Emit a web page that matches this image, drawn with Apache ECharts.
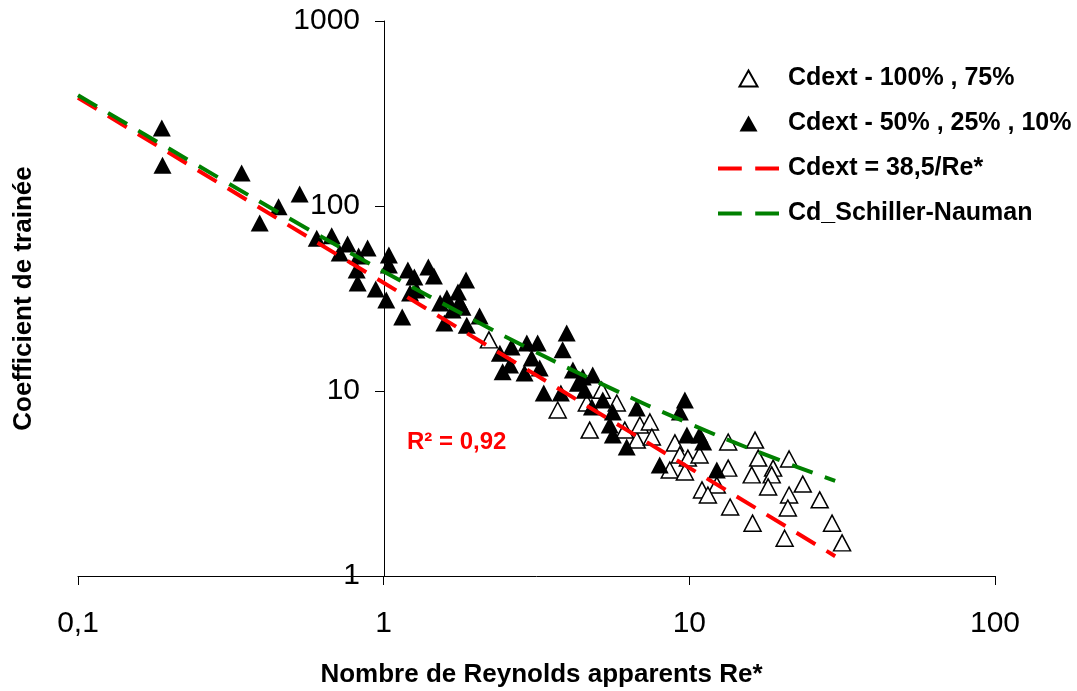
<!DOCTYPE html>
<html>
<head>
<meta charset="utf-8">
<script src="https://cdn.jsdelivr.net/npm/echarts@6.0.0/dist/echarts.min.js"></script>
<style>
body{margin:0;background:#fff;}
#main{width:1077px;height:691px;}
</style>
</head>
<body>
<div id="main"></div>
<script>

// series names (legend)
var seriesNames = ['Cdext - 100% , 75%', 'Cdext - 50% , 25% , 10%', 'Cdext = 38,5/Re*', 'Cd_Schiller-Nauman'];

// open triangles : 100%, 75%
var openRe = [2.21,3.71,4.72,4.62,5.17,5.79,6.15,6.73,6.89,7.43,7.54,8.97,9.31,9.89,10.8,8.63,9.67,13.4,13.4,12.3,11.0,11.5,13.6,16.4,16.8,18.8,16.0,18.6,18.1,21.2,23.5,21.2,21.0,26.7,16.1,20.5,29.3,31.6];
var openCd = [18.9,7.89,6.15,8.61,10.1,8.61,6.15,5.43,6.55,6.8,5.64,5.24,4.51,4.34,4.51,3.74,3.65,5.3,3.83,3.1,2.92,2.74,2.36,5.43,4.34,3.83,3.52,3.52,3.03,4.29,3.14,2.74,2.33,2.58,1.93,1.6,1.93,1.51];

// filled triangles : 50%, 25%, 10%
var fullRe = [0.188,0.189,0.343,0.393,0.453,0.531,0.604,0.676,0.718,0.762,0.828,0.886,0.816,0.822,0.942,1.02,1.04,1.04,1.15,1.2,1.26,1.22,1.28,1.4,1.46,1.53,1.61,1.58,1.68,1.75,1.77,1.86,1.87,1.81,2.06,2.4,2.62,2.45,2.59,2.94,3.19,3.05,3.24,2.89,3.97,3.85,3.34,3.8,4.16,4.32,4.48,4.83,4.55,4.8,5.21,5.62,5.49,5.62,6.24,6.73,9.67,9.31,9.82,10.8,11.1,8.0,12.3];
var fullCd = [264,166,151,81,99,116,67,69,55.7,62.3,53.7,59.3,45.1,38.4,35.6,31,54.3,48,25.1,45.1,41.3,33.9,35.1,46.8,41.8,29.9,31.8,23.3,27.4,34.3,30.3,39.8,22.7,28.4,25.4,16,17.3,12.7,13.8,18.2,18.2,15.1,13.3,12.5,20.6,16.7,9.76,9.76,13,11,11.9,12.2,10.1,8.2,8.94,7.7,6.55,5.78,4.98,8.09,8.94,7.7,5.78,5.78,5.3,3.98,3.74];

// red dashed line (end points)
var redRe = [0.1, 30];
var redCd = [385, 1.28];

// green dashed line
var greenRe = [0.1, 0.3, 0.5, 1, 2, 3, 5, 10, 20, 30];
var greenCd = [397, 137, 84.2, 44.3, 23.9, 16.9, 11.2, 6.66, 4.19, 3.27];

var r2Text = 'R² = 0,92';

function pairs(xs, ys) {
	return xs.map(function (v, i) { return [v, ys[i]]; });
}

var font = '"Liberation Sans", Arial, sans-serif';
var triIcon = 'path://M0,16L9,0L18,16Z';
var dashIcon = 'path://M0,0H23V4H0Z M36,0H59V4H36Z';

var myChart = echarts.init(document.getElementById('main'));

var option = {
	backgroundColor: '#fff',
	animation: false,
	grid: {
		left: 78,
		right: 82,
		top: 21,
		bottom: 115,
		containLabel: false,
		outerBoundsMode: 'none'
	},
	legend: {
		orient: 'vertical',
		left: 713,
		top: 61,
		itemWidth: 61,
		itemHeight: 16,
		itemGap: 20,
		selectedMode: false,
		textStyle: {
			fontFamily: font,
			fontWeight: 'bold',
			fontSize: 25,
			color: '#000',
			padding: [0, 0, 0, 4]
		},
		data: [
			{name: seriesNames[0], icon: triIcon},
			{name: seriesNames[1], icon: triIcon},
			{name: seriesNames[2], icon: dashIcon},
			{name: seriesNames[3], icon: dashIcon}
		]
	},
	xAxis: {
		type: 'log',
		logBase: 10,
		min: 0.1,
		max: 100,
		interval: 1,
		name: 'Nombre de Reynolds apparents Re*',
		nameLocation: 'middle',
		nameGap: 86,
		nameTextStyle: {fontFamily: font, fontWeight: 'bold', fontSize: 26, color: '#000', padding: [0, 0, 0, 10]},
		axisLine: {onZero: false, lineStyle: {color: '#000', width: 1}},
		axisTick: {length: 9, lineStyle: {color: '#000'}},
		minorTick: {show: false},
		axisLabel: {
			margin: 33,
			fontFamily: font,
			fontSize: 30,
			color: '#000',
			formatter: function (v) { return String(v).replace('.', ','); }
		},
		splitLine: {show: false}
	},
	yAxis: {
		type: 'log',
		logBase: 10,
		min: 1,
		max: 1000,
		interval: 1,
		position: 'left',
		offset: -306,
		name: 'Coefficient de trainée',
		nameLocation: 'middle',
		nameGap: 347,
		nameTextStyle: {fontFamily: font, fontWeight: 'bold', fontSize: 26, color: '#000'},
		axisLine: {show: true, onZero: false, lineStyle: {color: '#000', width: 1}},
		axisTick: {show: true, length: 9, lineStyle: {color: '#000'}},
		axisLabel: {
			margin: 24,
			fontFamily: font,
			fontSize: 30,
			color: '#000',
			formatter: function (v) { return String(v); }
		},
		splitLine: {show: false}
	},
	graphic: [
		{
			type: 'text',
			left: 407,
			top: 430,
			style: {text: r2Text, fill: '#ff0000', font: 'bold 24px ' + font}
		}
	],
	series: [
		{
			name: seriesNames[0],
			type: 'scatter',
			symbol: 'triangle',
			symbolSize: [17, 16],
			itemStyle: {color: '#fff', borderColor: '#000', borderWidth: 1.5, opacity: 1},
			data: pairs(openRe, openCd)
		},
		{
			name: seriesNames[1],
			type: 'scatter',
			symbol: 'triangle',
			symbolSize: [18, 17],
			itemStyle: {color: '#000', borderColor: '#000', borderWidth: 0, opacity: 1},
			data: pairs(fullRe, fullCd)
		},
		{
			name: seriesNames[2],
			type: 'line',
			symbol: 'none',
			lineStyle: {color: '#ff0000', width: 4, type: [22, 13]},
			itemStyle: {color: '#ff0000'},
			data: pairs(redRe, redCd)
		},
		{
			name: seriesNames[3],
			type: 'line',
			symbol: 'none',
			smooth: true,
			lineStyle: {color: '#008000', width: 4, type: [22, 13]},
			itemStyle: {color: '#008000'},
			data: pairs(greenRe, greenCd)
		}
	]
};

myChart.setOption(option);

</script>
</body>
</html>
